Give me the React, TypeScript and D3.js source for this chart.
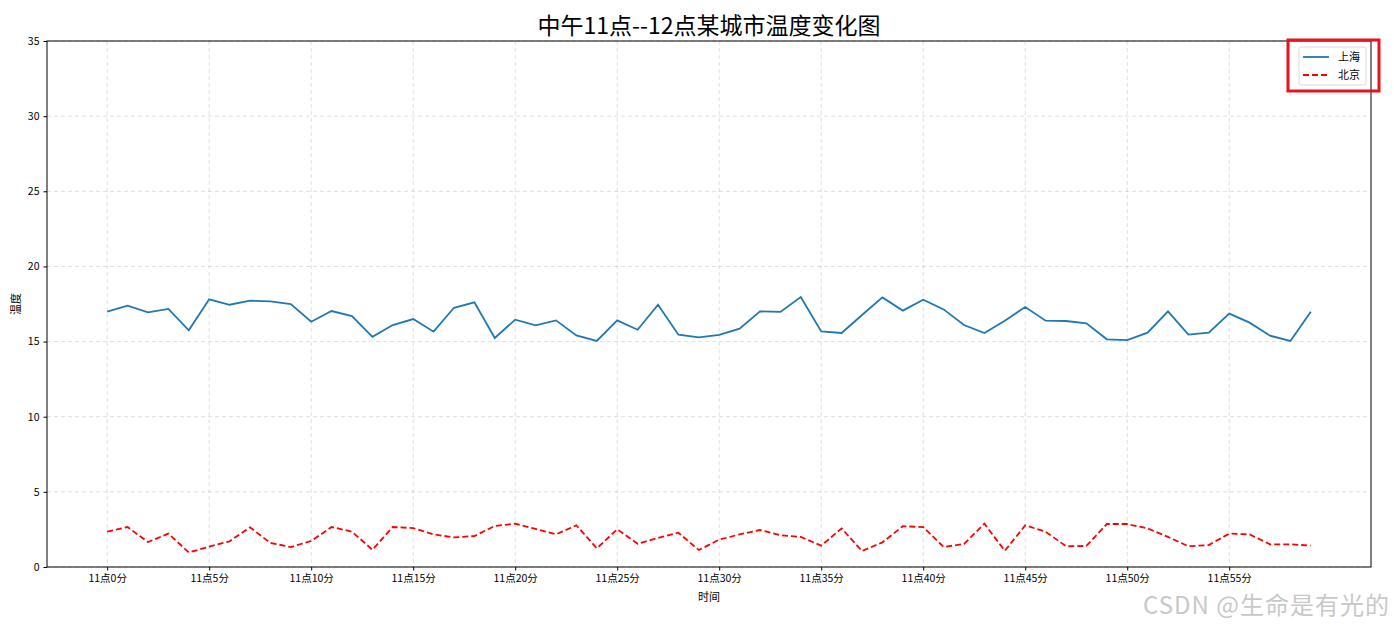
import { useEffect, useRef } from 'react';
import * as d3 from 'd3';

// minutes 0..59 after 11:00
const minutes = d3.range(0, 60);

const shanghai = [
  17.0, 17.39, 16.94, 17.17, 15.75, 17.81, 17.45, 17.72, 17.68, 17.5,
  16.32, 17.03, 16.7, 15.32, 16.1, 16.5, 15.66, 17.25, 17.61, 15.24,
  16.46, 16.08, 16.41, 15.41, 15.04, 16.41, 15.79, 17.45, 15.46, 15.28,
  15.44, 15.86, 17.01, 16.97, 17.96, 15.68, 15.57, 16.77, 17.94, 17.06,
  17.79, 17.14, 16.1, 15.57, 16.39, 17.3, 16.39, 16.37, 16.21, 15.15,
  15.1, 15.59, 17.01, 15.46, 15.59, 16.86, 16.26, 15.39, 15.04, 16.99,
];

const beijing = [
  2.35, 2.66, 1.66, 2.22, 0.97, 1.35, 1.71, 2.64, 1.6, 1.33,
  1.73, 2.66, 2.35, 1.15, 2.66, 2.59, 2.17, 1.97, 2.06, 2.73,
  2.88, 2.53, 2.17, 2.77, 1.24, 2.51, 1.55, 1.93, 2.28, 1.13,
  1.82, 2.17, 2.46, 2.11, 2.0, 1.42, 2.57, 1.06, 1.64, 2.71,
  2.66, 1.33, 1.53, 2.88, 1.08, 2.77, 2.35, 1.38, 1.4, 2.86,
  2.86, 2.57, 2.0, 1.38, 1.46, 2.22, 2.17, 1.51, 1.51, 1.42,
];

const xTicks = d3.range(0, 60, 5);
const xTickLabels = xTicks.map((m) => `11点${m}分`);
const yTicks = [0, 5, 10, 15, 20, 25, 30, 35];

const seriesNames = ['上海', '北京'];
const seriesColors = ['#1f77b4', '#ff0000'];

const W = 1394;
const H = 625;
const FONT = '"Noto Sans CJK SC", "DejaVu Sans", sans-serif';

export default function App() {
  const svgRef = useRef<SVGSVGElement>(null);

  useEffect(() => {
    if (!svgRef.current) return;
    const svg = d3.select(svgRef.current);
    svg.selectAll('*').remove();

    const left = 47, right = 1371, top = 41, bottom = 567;

    const x = d3.scaleLinear().domain([-2.95, 61.95]).range([left, right]);
    const y = d3.scaleLinear().domain([0, 35]).range([bottom, top]);

    svg.append('rect').attr('width', W).attr('height', H).attr('fill', '#fff');

    // grid
    const grid = svg.append('g')
      .attr('stroke', '#b0b0b0')
      .attr('stroke-opacity', 0.5)
      .attr('stroke-width', 0.8)
      .attr('stroke-dasharray', '4,3');
    xTicks.forEach((t) => {
      grid.append('line').attr('x1', x(t)).attr('x2', x(t)).attr('y1', top).attr('y2', bottom);
    });
    yTicks.forEach((t) => {
      grid.append('line').attr('x1', left).attr('x2', right).attr('y1', y(t)).attr('y2', y(t));
    });

    // lines
    const line = d3.line<number>()
      .x((_, i) => x(minutes[i]))
      .y((d) => y(d));

    svg.append('path')
      .datum(shanghai)
      .attr('d', line)
      .attr('fill', 'none')
      .attr('stroke', seriesColors[0])
      .attr('stroke-width', 1.8);

    svg.append('path')
      .datum(beijing)
      .attr('d', line)
      .attr('fill', 'none')
      .attr('stroke', seriesColors[1])
      .attr('stroke-width', 1.8)
      .attr('stroke-dasharray', '6,3');

    // frame
    svg.append('rect')
      .attr('x', left).attr('y', top)
      .attr('width', right - left).attr('height', bottom - top)
      .attr('fill', 'none').attr('stroke', '#000').attr('stroke-width', 1);

    // axes
    const xAxis = svg.append('g')
      .attr('transform', `translate(0,${bottom})`)
      .call(d3.axisBottom(x).tickValues(xTicks).tickSize(3.5).tickPadding(4)
        .tickFormat((_, i) => xTickLabels[i]));
    const yAxis = svg.append('g')
      .attr('transform', `translate(${left},0)`)
      .call(d3.axisLeft(y).tickValues(yTicks).tickSize(3.5).tickPadding(4));
    [xAxis, yAxis].forEach((a) => {
      a.select('.domain').remove();
      a.selectAll('text').attr('font-family', FONT).attr('font-size', 10.5).attr('fill', '#000');
    });

    // labels
    svg.append('text')
      .attr('x', (left + right) / 2).attr('y', 34)
      .attr('text-anchor', 'middle')
      .attr('font-family', FONT).attr('font-size', 23)
      .text('中午11点--12点某城市温度变化图');

    svg.append('text')
      .attr('x', (left + right) / 2).attr('y', 601)
      .attr('text-anchor', 'middle')
      .attr('font-family', FONT).attr('font-size', 11)
      .text('时间');

    svg.append('text')
      .attr('transform', `translate(20,${(top + bottom) / 2}) rotate(-90)`)
      .attr('text-anchor', 'middle')
      .attr('font-family', FONT).attr('font-size', 11)
      .text('温度');

    // legend
    const lg = svg.append('g');
    lg.append('rect')
      .attr('x', 1299).attr('y', 47).attr('width', 67).attr('height', 38)
      .attr('rx', 2)
      .attr('fill', '#fff').attr('fill-opacity', 0.8)
      .attr('stroke', '#d9d9d9').attr('stroke-width', 1);
    seriesNames.forEach((name, i) => {
      const ly = 57 + i * 18;
      lg.append('line')
        .attr('x1', 1303).attr('x2', 1329).attr('y1', ly).attr('y2', ly)
        .attr('stroke', seriesColors[i]).attr('stroke-width', 1.8)
        .attr('stroke-dasharray', i === 1 ? '6,3' : null);
      lg.append('text')
        .attr('x', 1338).attr('y', ly + 4)
        .attr('font-family', FONT).attr('font-size', 11)
        .text(name);
    });

    // red highlight box around legend
    svg.append('rect')
      .attr('x', 1288).attr('y', 40).attr('width', 91).attr('height', 51)
      .attr('fill', 'none').attr('stroke', '#e8141c').attr('stroke-width', 3);

    // watermark
    svg.append('text')
      .attr('x', 1390).attr('y', 614)
      .attr('text-anchor', 'end')
      .attr('font-family', FONT).attr('font-size', 24)
      .attr('letter-spacing', 1)
      .attr('fill', '#c8c8c8')
      .text('CSDN @生命是有光的');
  }, []);

  return <svg ref={svgRef} width={W} height={H} style={{ display: 'block', position: 'absolute', left: 0, top: 0 }} />;
}
